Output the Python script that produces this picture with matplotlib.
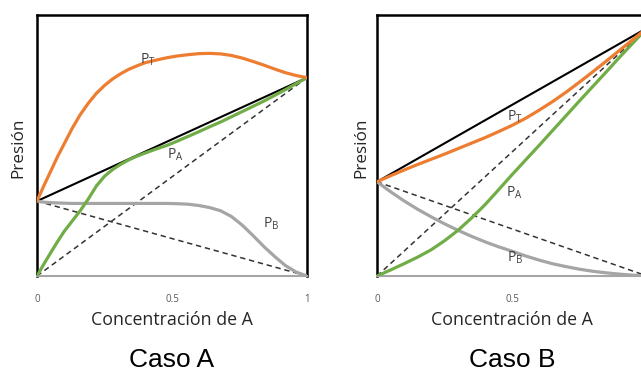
import numpy as np
import matplotlib
matplotlib.use("Agg")
import matplotlib.pyplot as plt

plt.rcParams['font.family'] = ['Open Sans', 'DejaVu Sans']

# Caso A (desviacion positiva)
x_a = [0, 0.025, 0.05, 0.075, 0.10, 0.13, 0.16, 0.19, 0.22, 0.25, 0.28, 0.31, 0.34, 0.37, 0.40,
       0.44, 0.48, 0.52, 0.56, 0.60, 0.64, 0.68, 0.72, 0.76, 0.80, 0.84, 0.88, 0.92, 0.96, 1.0]
pt_a = [0.287, 0.345, 0.40, 0.455, 0.505, 0.565, 0.618, 0.662, 0.70, 0.73, 0.755, 0.775, 0.792, 0.805, 0.817,
        0.827, 0.836, 0.843, 0.848, 0.852, 0.853, 0.851, 0.845, 0.835, 0.822, 0.808, 0.793, 0.779, 0.768, 0.76]
pa_a = [0.0, 0.045, 0.088, 0.13, 0.17, 0.21, 0.25, 0.295, 0.345, 0.382, 0.408, 0.428, 0.445, 0.459, 0.471,
        0.486, 0.50, 0.517, 0.535, 0.553, 0.572, 0.59, 0.61, 0.63, 0.65, 0.67, 0.692, 0.714, 0.737, 0.76]
pb_a = [0.287, 0.283, 0.281, 0.28, 0.279, 0.278, 0.278, 0.278, 0.278, 0.278, 0.278, 0.278, 0.278, 0.278, 0.278,
        0.278, 0.278, 0.277, 0.275, 0.27, 0.262, 0.25, 0.228, 0.195, 0.155, 0.113, 0.075, 0.04, 0.015, 0.0]
p0a_a, p0b_a = 0.76, 0.287

# Caso B (desviacion negativa)
x_b = [0, 0.05, 0.1, 0.15, 0.2, 0.25, 0.3, 0.35, 0.4, 0.45, 0.5,
       0.55, 0.6, 0.65, 0.7, 0.75, 0.8, 0.85, 0.9, 0.95, 1.0]
pt_b = [0.361, 0.384, 0.406, 0.427, 0.447, 0.467, 0.488, 0.509, 0.53, 0.553, 0.577,
        0.604, 0.635, 0.668, 0.704, 0.743, 0.783, 0.824, 0.866, 0.908, 0.95]
pa_b = [0.0, 0.023, 0.047, 0.072, 0.10, 0.135, 0.175, 0.222, 0.273, 0.33, 0.388,
        0.444, 0.50, 0.557, 0.614, 0.671, 0.727, 0.783, 0.84, 0.895, 0.95]
pb_b = [0.361, 0.323, 0.288, 0.256, 0.227, 0.20, 0.175, 0.152, 0.131, 0.112, 0.095,
        0.077, 0.061, 0.047, 0.036, 0.026, 0.018, 0.012, 0.007, 0.003, 0.0]
p0a_b, p0b_b = 0.95, 0.361

ticks_a, labels_a = [0, 0.5, 1], ['0', '0.5', '1']
ticks_b, labels_b = [0, 0.5], ['0', '0.5']

orange = '#ED7D31'
green = '#70AD47'
gray = '#A5A5A5'
txt = '#404040'

fig = plt.figure(figsize=(6.41, 3.74), dpi=100)
W, H = 641, 374
ax1 = fig.add_axes([37 / W, 1 - 276 / H, 270 / W, 261 / H])
ax2 = fig.add_axes([377 / W, 1 - 276 / H, 270 / W, 261 / H])


def draw(ax, x, pt, pa, pb, p0a, p0b, labels, title, ticks, tlabels, ylab_x, right_spine=True):
    ax.plot([0, 1], [0, p0a], color='#333333', lw=1.1, dashes=(3.5, 2.5), zorder=2)
    ax.plot([0, 1], [p0b, 0], color='#333333', lw=1.1, dashes=(3.5, 2.5), zorder=2)
    ax.plot([0, 1], [p0b, p0a], color='black', lw=1.5, zorder=3)
    ax.plot(x, pb, color=gray, lw=2.3, zorder=4, solid_capstyle='round')
    ax.plot(x, pa, color=green, lw=2.3, zorder=5, solid_capstyle='round')
    ax.plot(x, pt, color=orange, lw=2.3, zorder=6, solid_capstyle='round')
    for s, (lx, ly) in zip(['T', 'A', 'B'], labels):
        ax.text(lx, ly, r'$\mathregular{P_{%s}}$' % s, color=txt, fontsize=10,
                ha='center', va='center', zorder=7)
    ax.set_xlim(0, 1)
    ax.set_ylim(0, 1)
    ax.set_xticks(ticks)
    ax.set_xticklabels(tlabels)
    ax.set_yticks([])
    ax.tick_params(axis='x', length=0, pad=13, labelsize=7, labelcolor='#595959')
    for side in ['left', 'top', 'right']:
        ax.spines[side].set_color('black')
        ax.spines[side].set_linewidth(1.8)
    ax.spines['right'].set_visible(right_spine)
    ax.spines['bottom'].set_color('#A6A6A6')
    ax.spines['bottom'].set_linewidth(1.5)
    ax.text(0.5, -0.188, 'Concentración de A', transform=ax.transAxes, fontsize=12.8,
            ha='center', va='baseline', color='#262626')
    ax.text(ylab_x, 0.492, 'Presión', transform=ax.transAxes, fontsize=12.3, rotation=90,
            ha='center', va='center', color='#262626')
    ax.text(0.5, -0.349, title, transform=ax.transAxes, fontsize=19,
            family='Liberation Sans', ha='center', va='baseline', color='black')


draw(ax1, x_a, pt_a, pa_a, pb_a, p0a_a, p0b_a,
     [(0.412, 0.828), (0.511, 0.464), (0.869, 0.2)], 'Caso A', ticks_a, labels_a, -0.07)
draw(ax2, x_b, pt_b, pa_b, pb_b, p0a_b, p0b_b,
     [(0.51, 0.61), (0.51, 0.318), (0.51, 0.069)], 'Caso B', ticks_b, labels_b, -0.059,
     right_spine=False)

fig.savefig('out.png', dpi=100)
